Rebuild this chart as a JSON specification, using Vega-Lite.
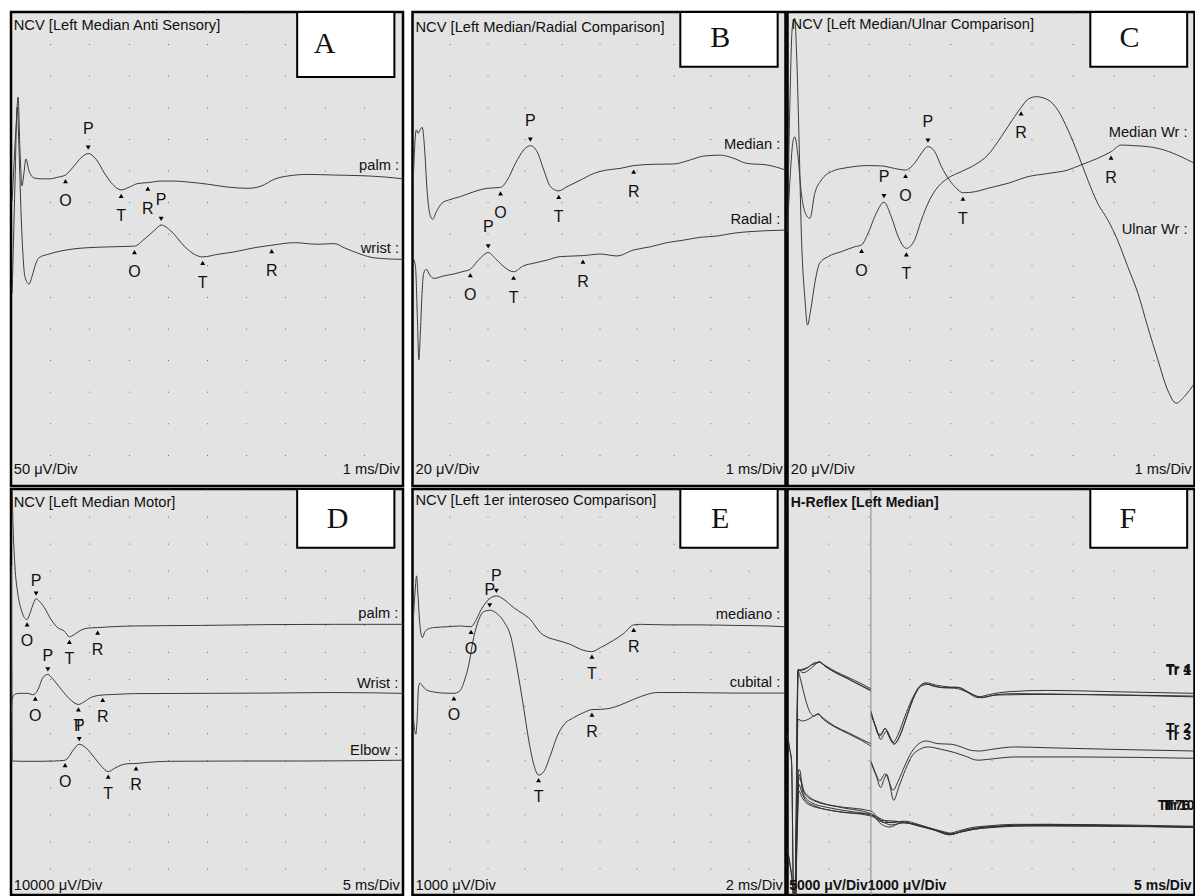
{
"$schema":"https://vega.github.io/schema/vega-lite/v6.json",
"background":"white",
"padding":{"left":9,"top":9,"right":0,"bottom":0},
"config":{"view":{"fill":"#e3e3e3","stroke":"#000","strokeWidth":2.5},
"axisX":{"grid":true,"domain":false,"ticks":false,"labels":false,"gridColor":"#707070","gridWidth":1,"gridOpacity":1},
"font":"Liberation Sans","text":{"font":"Liberation Sans","color":"#111"}},
"datasets":{
"cur":[{"x":2.05}],
"trA":[
{"s":"palm","x":0.03,"y":9.02},{"s":"palm","x":0.13,"y":11.39},{"s":"palm","x":0.18,"y":12.31},{"s":"palm","x":0.23,"y":10.6},{"s":"palm","x":0.28,"y":9.5},{"s":"palm","x":0.33,"y":9.9},{"s":"palm","x":0.38,"y":10.35},{"s":"palm","x":0.46,"y":9.97},{"s":"palm","x":0.59,"y":9.75},{"s":"palm","x":0.77,"y":9.72},{"s":"palm","x":0.97,"y":9.72},{"s":"palm","x":1.22,"y":9.78},{"s":"palm","x":1.39,"y":9.84},{"s":"palm","x":1.57,"y":10.07},{"s":"palm","x":1.79,"y":10.39},{"s":"palm","x":1.97,"y":10.52},{"s":"palm","x":2.17,"y":10.34},{"s":"palm","x":2.38,"y":9.91},{"s":"palm","x":2.59,"y":9.55},{"s":"palm","x":2.81,"y":9.37},{"s":"palm","x":3.02,"y":9.46},{"s":"palm","x":3.23,"y":9.57},{"s":"palm","x":3.49,"y":9.6},{"s":"palm","x":3.83,"y":9.65},{"s":"palm","x":4.17,"y":9.65},{"s":"palm","x":4.51,"y":9.62},{"s":"palm","x":5.02,"y":9.55},{"s":"palm","x":5.53,"y":9.46},{"s":"palm","x":6.04,"y":9.42},{"s":"palm","x":6.38,"y":9.49},{"s":"palm","x":6.72,"y":9.71},{"s":"palm","x":7.06,"y":9.81},{"s":"palm","x":7.57,"y":9.86},{"s":"palm","x":8.25,"y":9.84},{"s":"palm","x":8.93,"y":9.82},{"s":"palm","x":9.52,"y":9.78},{"s":"palm","x":10,"y":9.72},
{"s":"wrist","x":0.03,"y":6.1},{"s":"wrist","x":0.1,"y":9.5},{"s":"wrist","x":0.16,"y":12.0},{"s":"wrist","x":0.2,"y":10.8},{"s":"wrist","x":0.27,"y":8.2},{"s":"wrist","x":0.36,"y":6.6},{"s":"wrist","x":0.46,"y":6.39},{"s":"wrist","x":0.54,"y":6.65},{"s":"wrist","x":0.64,"y":7.06},{"s":"wrist","x":0.71,"y":7.22},{"s":"wrist","x":0.97,"y":7.34},{"s":"wrist","x":1.58,"y":7.5},{"s":"wrist","x":2.3,"y":7.56},{"s":"wrist","x":3.15,"y":7.59},{"s":"wrist","x":3.4,"y":7.81},{"s":"wrist","x":3.66,"y":8.09},{"s":"wrist","x":3.83,"y":8.26},{"s":"wrist","x":4.08,"y":8.07},{"s":"wrist","x":4.42,"y":7.59},{"s":"wrist","x":4.68,"y":7.33},{"s":"wrist","x":4.89,"y":7.25},{"s":"wrist","x":5.27,"y":7.33},{"s":"wrist","x":5.7,"y":7.41},{"s":"wrist","x":6.21,"y":7.54},{"s":"wrist","x":6.65,"y":7.62},{"s":"wrist","x":7.23,"y":7.7},{"s":"wrist","x":7.82,"y":7.65},{"s":"wrist","x":8.25,"y":7.67},{"s":"wrist","x":8.5,"y":7.54},{"s":"wrist","x":8.93,"y":7.33},{"s":"wrist","x":9.27,"y":7.22},{"s":"wrist","x":10,"y":7.17}],
"trB":[
{"s":"m","x":0.02,"y":9.63},{"s":"m","x":0.05,"y":10.53},{"s":"m","x":0.1,"y":11.27},{"s":"m","x":0.15,"y":11.16},{"s":"m","x":0.2,"y":11.27},{"s":"m","x":0.26,"y":11.35},{"s":"m","x":0.32,"y":10.74},{"s":"m","x":0.39,"y":9.37},{"s":"m","x":0.46,"y":8.63},{"s":"m","x":0.54,"y":8.44},{"s":"m","x":0.64,"y":8.68},{"s":"m","x":0.79,"y":8.95},{"s":"m","x":0.97,"y":9.05},{"s":"m","x":1.29,"y":9.16},{"s":"m","x":1.64,"y":9.31},{"s":"m","x":2.0,"y":9.42},{"s":"m","x":2.36,"y":9.45},{"s":"m","x":2.54,"y":9.68},{"s":"m","x":2.76,"y":10.21},{"s":"m","x":2.98,"y":10.63},{"s":"m","x":3.16,"y":10.77},{"s":"m","x":3.34,"y":10.58},{"s":"m","x":3.52,"y":10.0},{"s":"m","x":3.7,"y":9.47},{"s":"m","x":3.92,"y":9.34},{"s":"m","x":4.14,"y":9.47},{"s":"m","x":4.5,"y":9.68},{"s":"m","x":4.86,"y":9.89},{"s":"m","x":5.21,"y":10.0},{"s":"m","x":5.57,"y":10.05},{"s":"m","x":5.93,"y":10.14},{"s":"m","x":6.46,"y":10.18},{"s":"m","x":7.0,"y":10.19},{"s":"m","x":7.45,"y":10.32},{"s":"m","x":7.8,"y":10.44},{"s":"m","x":8.25,"y":10.47},{"s":"m","x":8.61,"y":10.37},{"s":"m","x":8.96,"y":10.21},{"s":"m","x":9.5,"y":10.16},{"s":"m","x":10,"y":10.0},
{"s":"r","x":0.02,"y":7.2},{"s":"r","x":0.08,"y":6.94},{"s":"r","x":0.13,"y":5.36},{"s":"r","x":0.17,"y":3.99},{"s":"r","x":0.21,"y":4.83},{"s":"r","x":0.26,"y":6.2},{"s":"r","x":0.3,"y":6.73},{"s":"r","x":0.37,"y":6.86},{"s":"r","x":0.46,"y":6.68},{"s":"r","x":0.57,"y":6.57},{"s":"r","x":0.84,"y":6.65},{"s":"r","x":1.11,"y":6.71},{"s":"r","x":1.33,"y":6.78},{"s":"r","x":1.55,"y":6.86},{"s":"r","x":1.73,"y":7.1},{"s":"r","x":1.91,"y":7.31},{"s":"r","x":2.03,"y":7.39},{"s":"r","x":2.22,"y":7.2},{"s":"r","x":2.45,"y":6.94},{"s":"r","x":2.71,"y":6.78},{"s":"r","x":2.98,"y":6.97},{"s":"r","x":3.25,"y":7.05},{"s":"r","x":3.61,"y":7.15},{"s":"r","x":3.96,"y":7.26},{"s":"r","x":4.57,"y":7.29},{"s":"r","x":5.04,"y":7.34},{"s":"r","x":5.48,"y":7.28},{"s":"r","x":5.93,"y":7.47},{"s":"r","x":6.38,"y":7.57},{"s":"r","x":6.82,"y":7.7},{"s":"r","x":7.27,"y":7.78},{"s":"r","x":7.71,"y":7.87},{"s":"r","x":8.16,"y":7.91},{"s":"r","x":8.61,"y":8.0},{"s":"r","x":9.05,"y":8.05},{"s":"r","x":9.5,"y":8.08},{"s":"r","x":10,"y":8.1}],
"trC":[
{"s":"m","x":0.0,"y":8.1},{"s":"m","x":0.08,"y":10.11},{"s":"m","x":0.14,"y":10.95},{"s":"m","x":0.18,"y":11.05},{"s":"m","x":0.25,"y":10.53},{"s":"m","x":0.34,"y":9.26},{"s":"m","x":0.44,"y":8.63},{"s":"m","x":0.55,"y":8.47},{"s":"m","x":0.67,"y":9.26},{"s":"m","x":0.83,"y":9.68},{"s":"m","x":1.08,"y":9.95},{"s":"m","x":1.49,"y":10.08},{"s":"m","x":1.98,"y":10.14},{"s":"m","x":2.31,"y":10.13},{"s":"m","x":2.63,"y":10.05},{"s":"m","x":2.9,"y":10.0},{"s":"m","x":3.12,"y":10.21},{"s":"m","x":3.29,"y":10.53},{"s":"m","x":3.45,"y":10.74},{"s":"m","x":3.62,"y":10.58},{"s":"m","x":3.78,"y":10.11},{"s":"m","x":3.98,"y":9.68},{"s":"m","x":4.15,"y":9.42},{"s":"m","x":4.31,"y":9.28},{"s":"m","x":4.6,"y":9.31},{"s":"m","x":4.92,"y":9.42},{"s":"m","x":5.42,"y":9.58},{"s":"m","x":5.91,"y":9.79},{"s":"m","x":6.4,"y":9.89},{"s":"m","x":6.89,"y":10.0},{"s":"m","x":7.21,"y":10.16},{"s":"m","x":7.62,"y":10.37},{"s":"m","x":7.95,"y":10.58},{"s":"m","x":8.2,"y":10.79},{"s":"m","x":8.52,"y":10.77},{"s":"m","x":8.85,"y":10.74},{"s":"m","x":9.26,"y":10.63},{"s":"m","x":9.67,"y":10.42},{"s":"m","x":10,"y":10.21},
{"s":"u","x":0.0,"y":8.0},{"s":"u","x":0.06,"y":12.22},{"s":"u","x":0.12,"y":14.54},{"s":"u","x":0.18,"y":14.8},{"s":"u","x":0.22,"y":13.8},{"s":"u","x":0.28,"y":11.16},{"s":"u","x":0.34,"y":8.0},{"s":"u","x":0.43,"y":5.89},{"s":"u","x":0.49,"y":5.09},{"s":"u","x":0.57,"y":5.57},{"s":"u","x":0.67,"y":6.41},{"s":"u","x":0.79,"y":7.05},{"s":"u","x":1.0,"y":7.26},{"s":"u","x":1.33,"y":7.42},{"s":"u","x":1.65,"y":7.57},{"s":"u","x":1.82,"y":7.63},{"s":"u","x":1.98,"y":8.0},{"s":"u","x":2.18,"y":8.63},{"s":"u","x":2.37,"y":8.98},{"s":"u","x":2.55,"y":8.52},{"s":"u","x":2.72,"y":7.89},{"s":"u","x":2.92,"y":7.52},{"s":"u","x":3.12,"y":7.78},{"s":"u","x":3.29,"y":8.42},{"s":"u","x":3.49,"y":9.05},{"s":"u","x":3.7,"y":9.47},{"s":"u","x":3.94,"y":9.74},{"s":"u","x":4.27,"y":9.95},{"s":"u","x":4.6,"y":10.16},{"s":"u","x":4.92,"y":10.47},{"s":"u","x":5.25,"y":11.05},{"s":"u","x":5.58,"y":11.69},{"s":"u","x":5.74,"y":11.98},{"s":"u","x":5.91,"y":12.24},{"s":"u","x":6.11,"y":12.32},{"s":"u","x":6.4,"y":12.22},{"s":"u","x":6.64,"y":11.9},{"s":"u","x":6.89,"y":11.27},{"s":"u","x":7.13,"y":10.53},{"s":"u","x":7.38,"y":9.68},{"s":"u","x":7.62,"y":8.95},{"s":"u","x":7.87,"y":8.42},{"s":"u","x":8.11,"y":7.78},{"s":"u","x":8.36,"y":6.94},{"s":"u","x":8.61,"y":6.1},{"s":"u","x":8.85,"y":5.04},{"s":"u","x":9.1,"y":3.99},{"s":"u","x":9.34,"y":3.04},{"s":"u","x":9.55,"y":2.62},{"s":"u","x":9.75,"y":2.83},{"s":"u","x":10,"y":3.25}],
"trD":[
{"s":"p","x":0.03,"y":15.0},{"s":"p","x":0.05,"y":13.76},{"s":"p","x":0.1,"y":12.16},{"s":"p","x":0.17,"y":11.17},{"s":"p","x":0.26,"y":10.55},{"s":"p","x":0.34,"y":10.25},{"s":"p","x":0.41,"y":10.18},{"s":"p","x":0.49,"y":10.43},{"s":"p","x":0.58,"y":10.8},{"s":"p","x":0.64,"y":10.95},{"s":"p","x":0.72,"y":10.86},{"s":"p","x":0.85,"y":10.62},{"s":"p","x":1.02,"y":10.18},{"s":"p","x":1.19,"y":9.88},{"s":"p","x":1.36,"y":9.75},{"s":"p","x":1.49,"y":9.54},{"s":"p","x":1.62,"y":9.63},{"s":"p","x":1.79,"y":9.79},{"s":"p","x":1.96,"y":9.86},{"s":"p","x":2.21,"y":9.88},{"s":"p","x":2.55,"y":9.91},{"s":"p","x":3.15,"y":9.94},{"s":"p","x":4.85,"y":9.96},{"s":"p","x":6.55,"y":9.99},{"s":"p","x":8.25,"y":10.0},{"s":"p","x":10,"y":10.0},
{"s":"w","x":0.01,"y":6.74},{"s":"w","x":0.03,"y":7.23},{"s":"w","x":0.09,"y":7.41},{"s":"w","x":0.21,"y":7.45},{"s":"w","x":0.43,"y":7.45},{"s":"w","x":0.55,"y":7.4},{"s":"w","x":0.62,"y":7.44},{"s":"w","x":0.71,"y":7.66},{"s":"w","x":0.81,"y":8.03},{"s":"w","x":0.94,"y":8.15},{"s":"w","x":1.06,"y":7.99},{"s":"w","x":1.28,"y":7.6},{"s":"w","x":1.49,"y":7.25},{"s":"w","x":1.72,"y":7.04},{"s":"w","x":1.87,"y":7.14},{"s":"w","x":2.04,"y":7.3},{"s":"w","x":2.34,"y":7.39},{"s":"w","x":2.64,"y":7.41},{"s":"w","x":3.15,"y":7.44},{"s":"w","x":4.85,"y":7.45},{"s":"w","x":6.55,"y":7.46},{"s":"w","x":8.25,"y":7.48},{"s":"w","x":10,"y":7.45},
{"s":"e","x":0.01,"y":12.16},{"s":"e","x":0.03,"y":4.95},{"s":"e","x":0.26,"y":4.94},{"s":"e","x":0.77,"y":4.94},{"s":"e","x":1.11,"y":4.95},{"s":"e","x":1.38,"y":4.98},{"s":"e","x":1.47,"y":5.1},{"s":"e","x":1.6,"y":5.38},{"s":"e","x":1.74,"y":5.57},{"s":"e","x":1.91,"y":5.44},{"s":"e","x":2.13,"y":5.07},{"s":"e","x":2.3,"y":4.77},{"s":"e","x":2.48,"y":4.56},{"s":"e","x":2.64,"y":4.68},{"s":"e","x":2.81,"y":4.8},{"s":"e","x":2.98,"y":4.85},{"s":"e","x":3.19,"y":4.86},{"s":"e","x":3.49,"y":4.9},{"s":"e","x":4.0,"y":4.94},{"s":"e","x":5.7,"y":4.95},{"s":"e","x":7.4,"y":4.95},{"s":"e","x":10,"y":4.98}],
"trE":[
{"s":"m","x":0.02,"y":10.12},{"s":"m","x":0.07,"y":11.23},{"s":"m","x":0.11,"y":11.79},{"s":"m","x":0.14,"y":11.23},{"s":"m","x":0.19,"y":10.12},{"s":"m","x":0.23,"y":9.63},{"s":"m","x":0.27,"y":9.51},{"s":"m","x":0.32,"y":9.69},{"s":"m","x":0.41,"y":9.82},{"s":"m","x":0.57,"y":9.88},{"s":"m","x":0.93,"y":9.91},{"s":"m","x":1.29,"y":9.94},{"s":"m","x":1.57,"y":9.91},{"s":"m","x":1.69,"y":10.12},{"s":"m","x":1.82,"y":10.49},{"s":"m","x":2.0,"y":10.86},{"s":"m","x":2.25,"y":11.05},{"s":"m","x":2.45,"y":10.92},{"s":"m","x":2.71,"y":10.62},{"s":"m","x":2.98,"y":10.37},{"s":"m","x":3.16,"y":10.18},{"s":"m","x":3.29,"y":9.94},{"s":"m","x":3.43,"y":9.69},{"s":"m","x":3.61,"y":9.53},{"s":"m","x":3.88,"y":9.41},{"s":"m","x":4.23,"y":9.26},{"s":"m","x":4.5,"y":9.08},{"s":"m","x":4.81,"y":8.99},{"s":"m","x":5.04,"y":9.14},{"s":"m","x":5.39,"y":9.41},{"s":"m","x":5.66,"y":9.66},{"s":"m","x":5.93,"y":9.98},{"s":"m","x":6.11,"y":10.0},{"s":"m","x":6.82,"y":9.98},{"s":"m","x":7.71,"y":9.98},{"s":"m","x":8.61,"y":9.96},{"s":"m","x":9.5,"y":9.94},{"s":"m","x":10,"y":9.91},
{"s":"c","x":0.02,"y":6.67},{"s":"c","x":0.05,"y":6.18},{"s":"c","x":0.09,"y":5.94},{"s":"c","x":0.13,"y":6.67},{"s":"c","x":0.16,"y":7.66},{"s":"c","x":0.2,"y":7.83},{"s":"c","x":0.25,"y":7.76},{"s":"c","x":0.35,"y":7.6},{"s":"c","x":0.53,"y":7.51},{"s":"c","x":0.84,"y":7.46},{"s":"c","x":1.11,"y":7.45},{"s":"c","x":1.27,"y":7.54},{"s":"c","x":1.39,"y":7.91},{"s":"c","x":1.51,"y":8.52},{"s":"c","x":1.64,"y":9.51},{"s":"c","x":1.78,"y":10.18},{"s":"c","x":1.91,"y":10.47},{"s":"c","x":2.07,"y":10.52},{"s":"c","x":2.27,"y":10.39},{"s":"c","x":2.45,"y":10.1},{"s":"c","x":2.63,"y":9.57},{"s":"c","x":2.8,"y":8.4},{"s":"c","x":2.98,"y":6.92},{"s":"c","x":3.12,"y":5.69},{"s":"c","x":3.25,"y":4.83},{"s":"c","x":3.38,"y":4.43},{"s":"c","x":3.52,"y":4.56},{"s":"c","x":3.7,"y":5.17},{"s":"c","x":3.88,"y":5.87},{"s":"c","x":4.05,"y":6.28},{"s":"c","x":4.32,"y":6.55},{"s":"c","x":4.59,"y":6.74},{"s":"c","x":4.81,"y":6.85},{"s":"c","x":5.04,"y":6.86},{"s":"c","x":5.3,"y":6.9},{"s":"c","x":5.57,"y":7.02},{"s":"c","x":5.93,"y":7.23},{"s":"c","x":6.29,"y":7.41},{"s":"c","x":6.55,"y":7.48},{"s":"c","x":7.27,"y":7.48},{"s":"c","x":8.61,"y":7.46},{"s":"c","x":10,"y":7.46}],
"trF":[
{"s":"1a","x":0,"y":5.94},{"s":"1a","x":0.05,"y":5.44},{"s":"1a","x":0.1,"y":4.95},{"s":"1a","x":0.15,"y":0},{"s":"1a","x":0.2,"y":0},{"s":"1a","x":0.26,"y":8.3},{"s":"1a","x":0.34,"y":8.3},{"s":"1a","x":0.47,"y":8.37},{"s":"1a","x":0.59,"y":8.5},{"s":"1a","x":0.71,"y":8.55},{"s":"1a","x":0.79,"y":8.61},{"s":"1a","x":0.9,"y":8.5},{"s":"1a","x":1.08,"y":8.34},{"s":"1a","x":1.33,"y":8.15},{"s":"1a","x":1.65,"y":7.93},{"s":"1a","x":2.05,"y":7.62},
{"s":"1b","x":2.05,"y":6.8},{"s":"1b","x":2.13,"y":6.37},{"s":"1b","x":2.24,"y":5.94},{"s":"1b","x":2.32,"y":5.96},{"s":"1b","x":2.39,"y":6.16},{"s":"1b","x":2.49,"y":5.87},{"s":"1b","x":2.59,"y":5.63},{"s":"1b","x":2.72,"y":5.94},{"s":"1b","x":2.88,"y":6.58},{"s":"1b","x":3.04,"y":7.17},{"s":"1b","x":3.21,"y":7.64},{"s":"1b","x":3.37,"y":7.81},{"s":"1b","x":3.62,"y":7.7},{"s":"1b","x":3.94,"y":7.66},{"s":"1b","x":4.15,"y":7.68},{"s":"1b","x":4.35,"y":7.56},{"s":"1b","x":4.56,"y":7.39},{"s":"1b","x":4.72,"y":7.33},{"s":"1b","x":4.97,"y":7.41},{"s":"1b","x":5.42,"y":7.51},{"s":"1b","x":6.4,"y":7.56},{"s":"1b","x":8.03,"y":7.51},{"s":"1b","x":10,"y":7.45},
{"s":"4a","x":0.2,"y":0},{"s":"4a","x":0.26,"y":8.34},{"s":"4a","x":0.38,"y":8.21},{"s":"4a","x":0.55,"y":8.34},{"s":"4a","x":0.67,"y":8.5},{"s":"4a","x":0.77,"y":8.62},{"s":"4a","x":0.88,"y":8.52},{"s":"4a","x":1.08,"y":8.3},{"s":"4a","x":1.41,"y":8.05},{"s":"4a","x":2.05,"y":7.56},
{"s":"4b","x":2.05,"y":6.74},{"s":"4b","x":2.14,"y":6.31},{"s":"4b","x":2.27,"y":5.87},{"s":"4b","x":2.35,"y":6.06},{"s":"4b","x":2.4,"y":6.16},{"s":"4b","x":2.51,"y":5.81},{"s":"4b","x":2.62,"y":5.57},{"s":"4b","x":2.76,"y":5.87},{"s":"4b","x":2.92,"y":6.55},{"s":"4b","x":3.08,"y":7.23},{"s":"4b","x":3.25,"y":7.72},{"s":"4b","x":3.41,"y":7.84},{"s":"4b","x":3.66,"y":7.75},{"s":"4b","x":4.02,"y":7.68},{"s":"4b","x":4.23,"y":7.66},{"s":"4b","x":4.43,"y":7.51},{"s":"4b","x":4.64,"y":7.35},{"s":"4b","x":4.76,"y":7.29},{"s":"4b","x":5.09,"y":7.39},{"s":"4b","x":5.58,"y":7.44},{"s":"4b","x":7.21,"y":7.41},{"s":"4b","x":10,"y":7.35},
{"s":"5a","x":0.2,"y":0},{"s":"5a","x":0.26,"y":8.28},{"s":"5a","x":0.34,"y":8.33},{"s":"5a","x":0.51,"y":8.42},{"s":"5a","x":0.65,"y":8.57},{"s":"5a","x":0.79,"y":8.6},{"s":"5a","x":0.92,"y":8.45},{"s":"5a","x":1.16,"y":8.23},{"s":"5a","x":1.49,"y":7.98},{"s":"5a","x":2.05,"y":7.54},
{"s":"5b","x":2.05,"y":6.67},{"s":"5b","x":2.18,"y":6.18},{"s":"5b","x":2.29,"y":5.75},{"s":"5b","x":2.37,"y":5.94},{"s":"5b","x":2.44,"y":6.06},{"s":"5b","x":2.55,"y":5.75},{"s":"5b","x":2.63,"y":5.59},{"s":"5b","x":2.78,"y":5.96},{"s":"5b","x":2.95,"y":6.67},{"s":"5b","x":3.12,"y":7.35},{"s":"5b","x":3.29,"y":7.72},{"s":"5b","x":3.45,"y":7.78},{"s":"5b","x":3.78,"y":7.66},{"s":"5b","x":4.11,"y":7.64},{"s":"5b","x":4.39,"y":7.51},{"s":"5b","x":4.68,"y":7.29},{"s":"5b","x":5.17,"y":7.39},{"s":"5b","x":6.4,"y":7.41},{"s":"5b","x":10,"y":7.32},
{"s":"2a","x":0,"y":5.9},{"s":"2a","x":0.05,"y":5.4},{"s":"2a","x":0.1,"y":4.9},{"s":"2a","x":0.15,"y":0},{"s":"2a","x":0.2,"y":0},{"s":"2a","x":0.26,"y":8.28},{"s":"2a","x":0.31,"y":8.03},{"s":"2a","x":0.41,"y":7.41},{"s":"2a","x":0.52,"y":6.86},{"s":"2a","x":0.65,"y":6.61},{"s":"2a","x":0.75,"y":6.7},{"s":"2a","x":0.88,"y":6.53},{"s":"2a","x":1.16,"y":6.24},{"s":"2a","x":1.49,"y":6.0},{"s":"2a","x":1.82,"y":5.75},{"s":"2a","x":2.05,"y":5.59},
{"s":"2b","x":2.05,"y":4.95},{"s":"2b","x":2.16,"y":4.52},{"s":"2b","x":2.27,"y":4.21},{"s":"2b","x":2.35,"y":4.4},{"s":"2b","x":2.4,"y":4.48},{"s":"2b","x":2.49,"y":4.21},{"s":"2b","x":2.59,"y":3.87},{"s":"2b","x":2.72,"y":4.21},{"s":"2b","x":2.88,"y":4.77},{"s":"2b","x":3.04,"y":5.26},{"s":"2b","x":3.21,"y":5.57},{"s":"2b","x":3.41,"y":5.69},{"s":"2b","x":3.7,"y":5.59},{"s":"2b","x":4.02,"y":5.57},{"s":"2b","x":4.27,"y":5.47},{"s":"2b","x":4.52,"y":5.34},{"s":"2b","x":4.72,"y":5.32},{"s":"2b","x":5.01,"y":5.38},{"s":"2b","x":5.58,"y":5.47},{"s":"2b","x":6.4,"y":5.44},{"s":"2b","x":8.03,"y":5.38},{"s":"2b","x":10,"y":5.32},
{"s":"3a","x":0.2,"y":0},{"s":"3a","x":0.26,"y":6.49},{"s":"3a","x":0.36,"y":6.43},{"s":"3a","x":0.51,"y":6.49},{"s":"3a","x":0.64,"y":6.61},{"s":"3a","x":0.75,"y":6.67},{"s":"3a","x":0.88,"y":6.49},{"s":"3a","x":1.16,"y":6.21},{"s":"3a","x":1.49,"y":5.96},{"s":"3a","x":1.82,"y":5.71},{"s":"3a","x":2.05,"y":5.5},
{"s":"3b","x":2.05,"y":4.89},{"s":"3b","x":2.18,"y":4.4},{"s":"3b","x":2.29,"y":3.97},{"s":"3b","x":2.37,"y":4.27},{"s":"3b","x":2.44,"y":4.46},{"s":"3b","x":2.51,"y":4.09},{"s":"3b","x":2.61,"y":3.5},{"s":"3b","x":2.73,"y":3.97},{"s":"3b","x":2.9,"y":4.64},{"s":"3b","x":3.06,"y":5.14},{"s":"3b","x":3.25,"y":5.38},{"s":"3b","x":3.45,"y":5.47},{"s":"3b","x":3.78,"y":5.38},{"s":"3b","x":4.11,"y":5.26},{"s":"3b","x":4.35,"y":5.14},{"s":"3b","x":4.68,"y":4.98},{"s":"3b","x":4.92,"y":5.01},{"s":"3b","x":5.58,"y":5.1},{"s":"3b","x":7.21,"y":5.1},{"s":"3b","x":10,"y":5.05},
{"s":"6","x":0,"y":1.75},{"s":"6","x":0.05,"y":1.26},{"s":"6","x":0.1,"y":0.76},{"s":"6","x":0.15,"y":0},{"s":"6","x":0.2,"y":0},{"s":"6","x":0.21,"y":2.0},{"s":"6","x":0.28,"y":4.64},{"s":"6","x":0.31,"y":4.58},{"s":"6","x":0.36,"y":3.97},{"s":"6","x":0.51,"y":3.66},{"s":"6","x":0.83,"y":3.41},{"s":"6","x":1.33,"y":3.23},{"s":"6","x":2.05,"y":3.0},{"s":"6","x":2.31,"y":2.8},{"s":"6","x":2.55,"y":2.67},{"s":"6","x":2.88,"y":2.73},{"s":"6","x":3.21,"y":2.61},{"s":"6","x":3.53,"y":2.46},{"s":"6","x":3.78,"y":2.34},{"s":"6","x":3.94,"y":2.27},{"s":"6","x":4.19,"y":2.36},{"s":"6","x":4.52,"y":2.49},{"s":"6","x":4.92,"y":2.55},{"s":"6","x":5.58,"y":2.61},{"s":"6","x":6.4,"y":2.61},{"s":"6","x":8.03,"y":2.55},{"s":"6","x":10,"y":2.51},
{"s":"7","x":0.18,"y":0},{"s":"7","x":0.21,"y":1.38},{"s":"7","x":0.28,"y":4.33},{"s":"7","x":0.33,"y":4.21},{"s":"7","x":0.39,"y":3.72},{"s":"7","x":0.59,"y":3.41},{"s":"7","x":1.0,"y":3.23},{"s":"7","x":1.49,"y":3.1},{"s":"7","x":2.05,"y":2.96},{"s":"7","x":2.31,"y":2.73},{"s":"7","x":2.55,"y":2.59},{"s":"7","x":2.88,"y":2.67},{"s":"7","x":3.21,"y":2.55},{"s":"7","x":3.53,"y":2.43},{"s":"7","x":3.86,"y":2.3},{"s":"7","x":4.02,"y":2.24},{"s":"7","x":4.27,"y":2.34},{"s":"7","x":4.6,"y":2.46},{"s":"7","x":5.09,"y":2.54},{"s":"7","x":6.4,"y":2.59},{"s":"7","x":10,"y":2.49},
{"s":"8","x":0.18,"y":0},{"s":"8","x":0.21,"y":1.01},{"s":"8","x":0.28,"y":4.09},{"s":"8","x":0.34,"y":3.84},{"s":"8","x":0.43,"y":3.53},{"s":"8","x":0.67,"y":3.29},{"s":"8","x":1.16,"y":3.1},{"s":"8","x":2.05,"y":2.92},{"s":"8","x":2.39,"y":2.67},{"s":"8","x":2.72,"y":2.71},{"s":"8","x":3.12,"y":2.61},{"s":"8","x":3.62,"y":2.39},{"s":"8","x":3.94,"y":2.24},{"s":"8","x":4.19,"y":2.3},{"s":"8","x":4.6,"y":2.43},{"s":"8","x":5.58,"y":2.55},{"s":"8","x":10,"y":2.51},
{"s":"9","x":0.18,"y":0},{"s":"9","x":0.21,"y":0.76},{"s":"9","x":0.28,"y":3.84},{"s":"9","x":0.36,"y":3.6},{"s":"9","x":0.51,"y":3.35},{"s":"9","x":0.92,"y":3.17},{"s":"9","x":1.49,"y":3.04},{"s":"9","x":2.05,"y":2.98},{"s":"9","x":2.31,"y":2.61},{"s":"9","x":2.51,"y":2.51},{"s":"9","x":2.8,"y":2.67},{"s":"9","x":3.29,"y":2.55},{"s":"9","x":3.7,"y":2.36},{"s":"9","x":3.98,"y":2.22},{"s":"9","x":4.27,"y":2.34},{"s":"9","x":4.76,"y":2.46},{"s":"9","x":6.4,"y":2.57},{"s":"9","x":10,"y":2.52},
{"s":"10","x":0,"y":1.7},{"s":"10","x":0.05,"y":1.2},{"s":"10","x":0.1,"y":0.7},{"s":"10","x":0.15,"y":0},{"s":"10","x":0.2,"y":0},{"s":"10","x":0.21,"y":1.63},{"s":"10","x":0.28,"y":4.46},{"s":"10","x":0.33,"y":4.27},{"s":"10","x":0.43,"y":3.72},{"s":"10","x":0.67,"y":3.47},{"s":"10","x":1.16,"y":3.29},{"s":"10","x":2.05,"y":3.1},{"s":"10","x":2.31,"y":2.76},{"s":"10","x":2.63,"y":2.73},{"s":"10","x":3.04,"y":2.64},{"s":"10","x":3.45,"y":2.49},{"s":"10","x":3.86,"y":2.33},{"s":"10","x":4.07,"y":2.27},{"s":"10","x":4.35,"y":2.39},{"s":"10","x":4.92,"y":2.51},{"s":"10","x":6.4,"y":2.61},{"s":"10","x":10,"y":2.54}],
"mk":[
{"p":"A","m":"O","x":1.39,"y":9.84},{"p":"A","m":"P","x":1.97,"y":10.52},{"p":"A","m":"T","x":2.81,"y":9.37},{"p":"A","m":"R","x":3.49,"y":9.6},
{"p":"A","m":"O","x":3.15,"y":7.59},{"p":"A","m":"P","x":3.83,"y":8.26},{"p":"A","m":"T","x":4.89,"y":7.25},{"p":"A","m":"R","x":6.65,"y":7.62},
{"p":"B","m":"O","x":2.36,"y":9.45},{"p":"B","m":"P","x":3.16,"y":10.77},{"p":"B","m":"T","x":3.92,"y":9.34},{"p":"B","m":"R","x":5.93,"y":10.14},
{"p":"B","m":"O","x":1.55,"y":6.86},{"p":"B","m":"P","x":2.03,"y":7.39},{"p":"B","m":"T","x":2.71,"y":6.78},{"p":"B","m":"R","x":4.57,"y":7.29},
{"p":"C","m":"O","x":2.9,"y":10.0},{"p":"C","m":"P","x":3.45,"y":10.74},{"p":"C","m":"T","x":4.31,"y":9.28},{"p":"C","m":"R","x":7.95,"y":10.58},
{"p":"C","m":"O","x":1.82,"y":7.63},{"p":"C","m":"P","x":2.37,"y":8.98},{"p":"C","m":"T","x":2.92,"y":7.52},{"p":"C","m":"R","x":5.74,"y":11.98},
{"p":"D","m":"O","x":0.41,"y":10.18},{"p":"D","m":"P","x":0.64,"y":10.95},{"p":"D","m":"T","x":1.49,"y":9.54},{"p":"D","m":"R","x":2.21,"y":9.88},
{"p":"D","m":"O","x":0.62,"y":7.44},{"p":"D","m":"P","x":0.94,"y":8.15},{"p":"D","m":"T","x":1.72,"y":7.04},{"p":"D","m":"R","x":2.34,"y":7.39},
{"p":"D","m":"O","x":1.38,"y":4.98},{"p":"D","m":"P","x":1.74,"y":5.57},{"p":"D","m":"T","x":2.48,"y":4.56},{"p":"D","m":"R","x":3.19,"y":4.86},
{"p":"E","m":"O","x":1.57,"y":9.91},{"p":"E","m":"P","x":2.25,"y":11.05},{"p":"E","m":"T","x":4.81,"y":8.99},{"p":"E","m":"R","x":5.93,"y":9.98},
{"p":"E","m":"O","x":1.11,"y":7.45},{"p":"E","m":"P","x":2.07,"y":10.52},{"p":"E","m":"T","x":3.38,"y":4.43},{"p":"E","m":"R","x":4.81,"y":6.85}],
"box":[
{"p":"A","x":7.3,"x2":9.78,"y":12.94,"y2":15,"t":"A","tx":8.0,"ty":13.99},
{"p":"B","x":7.18,"x2":9.79,"y":13.27,"y2":15,"t":"B","tx":8.25,"ty":14.17},
{"p":"C","x":7.44,"x2":9.82,"y":13.27,"y2":15,"t":"C","tx":8.4,"ty":14.17},
{"p":"D","x":7.3,"x2":9.78,"y":12.83,"y2":15,"t":"D","tx":8.33,"ty":13.88},
{"p":"E","x":7.18,"x2":9.79,"y":12.83,"y2":15,"t":"E","tx":8.25,"ty":13.88},
{"p":"F","x":7.44,"x2":9.82,"y":12.83,"y2":15,"t":"F","tx":8.36,"ty":13.88}],
"lblL":[
{"p":"A","x":0.07,"y":14.56,"t":"NCV [Left Median Anti Sensory]"},{"p":"A","x":0.07,"y":0.52,"t":"50 μV/Div"},
{"p":"B","x":0.08,"y":14.5,"t":"NCV [Left Median/Radial Comparison]"},{"p":"B","x":0.08,"y":0.52,"t":"20 μV/Div"},
{"p":"C","x":0.1,"y":14.6,"t":"NCV [Left Median/Ulnar Comparison]"},{"p":"C","x":0.08,"y":0.52,"t":"20 μV/Div"},
{"p":"D","x":0.07,"y":14.5,"t":"NCV [Left Median Motor]"},{"p":"D","x":0.07,"y":0.33,"t":"10000 μV/Div"},
{"p":"E","x":0.08,"y":14.55,"t":"NCV [Left 1er interoseo Comparison]"},{"p":"E","x":0.08,"y":0.33,"t":"1000 μV/Div"},
{"p":"F","x":0.08,"y":14.5,"t":"H-Reflex [Left Median]"},{"p":"F","x":0.04,"y":0.33,"t":"5000 μV/Div1000 μV/Div"},
{"p":"F","x":9.3,"y":8.3,"t":"Tr 4"},{"p":"F","x":9.3,"y":8.26,"t":"Tr 1"},{"p":"F","x":9.3,"y":6.14,"t":"Tr 2"},{"p":"F","x":9.3,"y":5.86,"t":"Tr 3"},
{"p":"F","x":9.1,"y":3.3,"t":"Tr 7"},{"p":"F","x":9.2,"y":3.3,"t":"Tr 10"},{"p":"F","x":9.28,"y":3.3,"t":"Tr 6"}],
"lblR":[
{"p":"A","x":9.92,"y":0.52,"t":"1 ms/Div"},{"p":"A","x":9.9,"y":10.13,"t":"palm :"},{"p":"A","x":9.9,"y":7.49,"t":"wrist :"},
{"p":"B","x":9.93,"y":0.52,"t":"1 ms/Div"},{"p":"B","x":9.86,"y":10.79,"t":"Median :"},{"p":"B","x":9.86,"y":8.42,"t":"Radial :"},
{"p":"C","x":9.93,"y":0.52,"t":"1 ms/Div"},{"p":"C","x":9.83,"y":11.16,"t":"Median Wr :"},{"p":"C","x":9.83,"y":8.1,"t":"Ulnar Wr :"},
{"p":"D","x":9.92,"y":0.33,"t":"5 ms/Div"},{"p":"D","x":9.88,"y":10.37,"t":"palm :"},{"p":"D","x":9.88,"y":7.81,"t":"Wrist :"},{"p":"D","x":9.88,"y":5.32,"t":"Elbow :"},
{"p":"E","x":9.93,"y":0.33,"t":"2 ms/Div"},{"p":"E","x":9.86,"y":10.34,"t":"mediano  :"},{"p":"E","x":9.86,"y":7.84,"t":"cubital :"},
{"p":"F","x":9.93,"y":0.33,"t":"5 ms/Div"}]
},
"vconcat":[
{"hconcat":[
{"width":392,"height":474,"layer":[
{"data":{"name":"trA"},"mark":{"type":"line","clip":true,"stroke":"#3a3a3a","strokeWidth":1,"interpolate":"monotone"},"encoding":{"x":{"field":"x","type":"quantitative","scale":{"domain":[0,10],"nice":false,"zero":false},"axis":{"values":[1,2,3,4,5,6,7,8,9],"gridDash":[1,30.6],"title":null}},"y":{"field":"y","type":"quantitative","scale":{"domain":[0,15],"nice":false,"zero":false},"axis":null},"detail":{"field":"s"}}},
{"data":{"name":"mk"},"transform":[{"filter":"datum.p=='A' && datum.m!='P'"}],"mark":{"type":"point","shape":"triangle-up","filled":true,"size":24,"color":"#000","opacity":1,"yOffset":6},"encoding":{"x":{"field":"x","type":"quantitative"},"y":{"field":"y","type":"quantitative","axis":null}}},
{"data":{"name":"mk"},"transform":[{"filter":"datum.p=='A' && datum.m=='P'"}],"mark":{"type":"point","shape":"triangle-down","filled":true,"size":24,"color":"#000","opacity":1,"yOffset":-6},"encoding":{"x":{"field":"x","type":"quantitative"},"y":{"field":"y","type":"quantitative","axis":null}}},
{"data":{"name":"mk"},"transform":[{"filter":"datum.p=='A' && datum.m!='P'"}],"mark":{"type":"text","fontSize":16,"baseline":"middle","dy":26},"encoding":{"x":{"field":"x","type":"quantitative"},"y":{"field":"y","type":"quantitative","axis":null},"text":{"field":"m"}}},
{"data":{"name":"mk"},"transform":[{"filter":"datum.p=='A' && datum.m=='P'"}],"mark":{"type":"text","fontSize":16,"baseline":"middle","dy":-25},"encoding":{"x":{"field":"x","type":"quantitative"},"y":{"field":"y","type":"quantitative","axis":null},"text":{"field":"m"}}},
{"data":{"name":"box"},"transform":[{"filter":"datum.p=='A'"}],"mark":{"type":"rect","fill":"#fff","stroke":"#000","strokeWidth":2},"encoding":{"x":{"field":"x","type":"quantitative"},"x2":{"field":"x2"},"y":{"field":"y","type":"quantitative","axis":null},"y2":{"field":"y2"}}},
{"data":{"name":"box"},"transform":[{"filter":"datum.p=='A'"}],"mark":{"type":"text","font":"Liberation Serif","fontSize":30,"align":"center","baseline":"middle"},"encoding":{"x":{"field":"tx","type":"quantitative"},"y":{"field":"ty","type":"quantitative","axis":null},"text":{"field":"t"}}},
{"data":{"name":"lblL"},"transform":[{"filter":"datum.p=='A'"}],"mark":{"type":"text","fontSize":14.7,"align":"left","baseline":"middle"},"encoding":{"x":{"field":"x","type":"quantitative"},"y":{"field":"y","type":"quantitative","axis":null},"text":{"field":"t"}}},
{"data":{"name":"lblR"},"transform":[{"filter":"datum.p=='A'"}],"mark":{"type":"text","fontSize":14.7,"align":"right","baseline":"middle"},"encoding":{"x":{"field":"x","type":"quantitative"},"y":{"field":"y","type":"quantitative","axis":null},"text":{"field":"t"}}}
]},
{"hconcat":[
{"width":373,"height":474,"layer":[
{"data":{"name":"trB"},"mark":{"type":"line","clip":true,"stroke":"#3a3a3a","strokeWidth":1,"interpolate":"monotone"},"encoding":{"x":{"field":"x","type":"quantitative","scale":{"domain":[0,10],"nice":false,"zero":false},"axis":{"values":[1,2,3,4,5,6,7,8,9],"gridDash":[1,30.6],"title":null}},"y":{"field":"y","type":"quantitative","scale":{"domain":[0,15],"nice":false,"zero":false},"axis":null},"detail":{"field":"s"}}},
{"data":{"name":"mk"},"transform":[{"filter":"datum.p=='B' && datum.m!='P'"}],"mark":{"type":"point","shape":"triangle-up","filled":true,"size":24,"color":"#000","opacity":1,"yOffset":6},"encoding":{"x":{"field":"x","type":"quantitative"},"y":{"field":"y","type":"quantitative","axis":null}}},
{"data":{"name":"mk"},"transform":[{"filter":"datum.p=='B' && datum.m=='P'"}],"mark":{"type":"point","shape":"triangle-down","filled":true,"size":24,"color":"#000","opacity":1,"yOffset":-6},"encoding":{"x":{"field":"x","type":"quantitative"},"y":{"field":"y","type":"quantitative","axis":null}}},
{"data":{"name":"mk"},"transform":[{"filter":"datum.p=='B' && datum.m!='P'"}],"mark":{"type":"text","fontSize":16,"baseline":"middle","dy":26},"encoding":{"x":{"field":"x","type":"quantitative"},"y":{"field":"y","type":"quantitative","axis":null},"text":{"field":"m"}}},
{"data":{"name":"mk"},"transform":[{"filter":"datum.p=='B' && datum.m=='P'"}],"mark":{"type":"text","fontSize":16,"baseline":"middle","dy":-25},"encoding":{"x":{"field":"x","type":"quantitative"},"y":{"field":"y","type":"quantitative","axis":null},"text":{"field":"m"}}},
{"data":{"name":"box"},"transform":[{"filter":"datum.p=='B'"}],"mark":{"type":"rect","fill":"#fff","stroke":"#000","strokeWidth":2},"encoding":{"x":{"field":"x","type":"quantitative"},"x2":{"field":"x2"},"y":{"field":"y","type":"quantitative","axis":null},"y2":{"field":"y2"}}},
{"data":{"name":"box"},"transform":[{"filter":"datum.p=='B'"}],"mark":{"type":"text","font":"Liberation Serif","fontSize":30,"align":"center","baseline":"middle"},"encoding":{"x":{"field":"tx","type":"quantitative"},"y":{"field":"ty","type":"quantitative","axis":null},"text":{"field":"t"}}},
{"data":{"name":"lblL"},"transform":[{"filter":"datum.p=='B'"}],"mark":{"type":"text","fontSize":14.7,"align":"left","baseline":"middle"},"encoding":{"x":{"field":"x","type":"quantitative"},"y":{"field":"y","type":"quantitative","axis":null},"text":{"field":"t"}}},
{"data":{"name":"lblR"},"transform":[{"filter":"datum.p=='B'"}],"mark":{"type":"text","fontSize":14.7,"align":"right","baseline":"middle"},"encoding":{"x":{"field":"x","type":"quantitative"},"y":{"field":"y","type":"quantitative","axis":null},"text":{"field":"t"}}}
]},
{"width":407,"height":474,"layer":[
{"data":{"name":"trC"},"mark":{"type":"line","clip":true,"stroke":"#3a3a3a","strokeWidth":1,"interpolate":"monotone"},"encoding":{"x":{"field":"x","type":"quantitative","scale":{"domain":[0,10],"nice":false,"zero":false},"axis":{"values":[1,2,3,4,5,6,7,8,9],"gridDash":[1,30.6],"title":null}},"y":{"field":"y","type":"quantitative","scale":{"domain":[0,15],"nice":false,"zero":false},"axis":null},"detail":{"field":"s"}}},
{"data":{"name":"mk"},"transform":[{"filter":"datum.p=='C' && datum.m!='P'"}],"mark":{"type":"point","shape":"triangle-up","filled":true,"size":24,"color":"#000","opacity":1,"yOffset":6},"encoding":{"x":{"field":"x","type":"quantitative"},"y":{"field":"y","type":"quantitative","axis":null}}},
{"data":{"name":"mk"},"transform":[{"filter":"datum.p=='C' && datum.m=='P'"}],"mark":{"type":"point","shape":"triangle-down","filled":true,"size":24,"color":"#000","opacity":1,"yOffset":-6},"encoding":{"x":{"field":"x","type":"quantitative"},"y":{"field":"y","type":"quantitative","axis":null}}},
{"data":{"name":"mk"},"transform":[{"filter":"datum.p=='C' && datum.m!='P'"}],"mark":{"type":"text","fontSize":16,"baseline":"middle","dy":26},"encoding":{"x":{"field":"x","type":"quantitative"},"y":{"field":"y","type":"quantitative","axis":null},"text":{"field":"m"}}},
{"data":{"name":"mk"},"transform":[{"filter":"datum.p=='C' && datum.m=='P'"}],"mark":{"type":"text","fontSize":16,"baseline":"middle","dy":-25},"encoding":{"x":{"field":"x","type":"quantitative"},"y":{"field":"y","type":"quantitative","axis":null},"text":{"field":"m"}}},
{"data":{"name":"box"},"transform":[{"filter":"datum.p=='C'"}],"mark":{"type":"rect","fill":"#fff","stroke":"#000","strokeWidth":2},"encoding":{"x":{"field":"x","type":"quantitative"},"x2":{"field":"x2"},"y":{"field":"y","type":"quantitative","axis":null},"y2":{"field":"y2"}}},
{"data":{"name":"box"},"transform":[{"filter":"datum.p=='C'"}],"mark":{"type":"text","font":"Liberation Serif","fontSize":30,"align":"center","baseline":"middle"},"encoding":{"x":{"field":"tx","type":"quantitative"},"y":{"field":"ty","type":"quantitative","axis":null},"text":{"field":"t"}}},
{"data":{"name":"lblL"},"transform":[{"filter":"datum.p=='C'"}],"mark":{"type":"text","fontSize":14.7,"align":"left","baseline":"middle"},"encoding":{"x":{"field":"x","type":"quantitative"},"y":{"field":"y","type":"quantitative","axis":null},"text":{"field":"t"}}},
{"data":{"name":"lblR"},"transform":[{"filter":"datum.p=='C'"}],"mark":{"type":"text","fontSize":14.7,"align":"right","baseline":"middle"},"encoding":{"x":{"field":"x","type":"quantitative"},"y":{"field":"y","type":"quantitative","axis":null},"text":{"field":"t"}}}
]}
],"spacing":-2}
],"spacing":5.5},
{"hconcat":[
{"width":392,"height":406,"layer":[
{"data":{"name":"trD"},"mark":{"type":"line","clip":true,"stroke":"#3a3a3a","strokeWidth":1,"interpolate":"monotone"},"encoding":{"x":{"field":"x","type":"quantitative","scale":{"domain":[0,10],"nice":false,"zero":false},"axis":{"values":[1,2,3,4,5,6,7,8,9],"gridDash":[1,26.07],"title":null}},"y":{"field":"y","type":"quantitative","scale":{"domain":[0,15],"nice":false,"zero":false},"axis":null},"detail":{"field":"s"}}},
{"data":{"name":"mk"},"transform":[{"filter":"datum.p=='D' && datum.m!='P'"}],"mark":{"type":"point","shape":"triangle-up","filled":true,"size":24,"color":"#000","opacity":1,"yOffset":5},"encoding":{"x":{"field":"x","type":"quantitative"},"y":{"field":"y","type":"quantitative","axis":null}}},
{"data":{"name":"mk"},"transform":[{"filter":"datum.p=='D' && datum.m=='P'"}],"mark":{"type":"point","shape":"triangle-down","filled":true,"size":24,"color":"#000","opacity":1,"yOffset":-5},"encoding":{"x":{"field":"x","type":"quantitative"},"y":{"field":"y","type":"quantitative","axis":null}}},
{"data":{"name":"mk"},"transform":[{"filter":"datum.p=='D' && datum.m!='P'"}],"mark":{"type":"text","fontSize":16,"baseline":"middle","dy":22},"encoding":{"x":{"field":"x","type":"quantitative"},"y":{"field":"y","type":"quantitative","axis":null},"text":{"field":"m"}}},
{"data":{"name":"mk"},"transform":[{"filter":"datum.p=='D' && datum.m=='P'"}],"mark":{"type":"text","fontSize":16,"baseline":"middle","dy":-18},"encoding":{"x":{"field":"x","type":"quantitative"},"y":{"field":"y","type":"quantitative","axis":null},"text":{"field":"m"}}},
{"data":{"name":"box"},"transform":[{"filter":"datum.p=='D'"}],"mark":{"type":"rect","fill":"#fff","stroke":"#000","strokeWidth":2},"encoding":{"x":{"field":"x","type":"quantitative"},"x2":{"field":"x2"},"y":{"field":"y","type":"quantitative","axis":null},"y2":{"field":"y2"}}},
{"data":{"name":"box"},"transform":[{"filter":"datum.p=='D'"}],"mark":{"type":"text","font":"Liberation Serif","fontSize":30,"align":"center","baseline":"middle"},"encoding":{"x":{"field":"tx","type":"quantitative"},"y":{"field":"ty","type":"quantitative","axis":null},"text":{"field":"t"}}},
{"data":{"name":"lblL"},"transform":[{"filter":"datum.p=='D'"}],"mark":{"type":"text","fontSize":14.7,"align":"left","baseline":"middle"},"encoding":{"x":{"field":"x","type":"quantitative"},"y":{"field":"y","type":"quantitative","axis":null},"text":{"field":"t"}}},
{"data":{"name":"lblR"},"transform":[{"filter":"datum.p=='D'"}],"mark":{"type":"text","fontSize":14.7,"align":"right","baseline":"middle"},"encoding":{"x":{"field":"x","type":"quantitative"},"y":{"field":"y","type":"quantitative","axis":null},"text":{"field":"t"}}}
]},
{"hconcat":[
{"width":373,"height":406,"layer":[
{"data":{"name":"trE"},"mark":{"type":"line","clip":true,"stroke":"#3a3a3a","strokeWidth":1,"interpolate":"monotone"},"encoding":{"x":{"field":"x","type":"quantitative","scale":{"domain":[0,10],"nice":false,"zero":false},"axis":{"values":[1,2,3,4,5,6,7,8,9],"gridDash":[1,26.07],"title":null}},"y":{"field":"y","type":"quantitative","scale":{"domain":[0,15],"nice":false,"zero":false},"axis":null},"detail":{"field":"s"}}},
{"data":{"name":"mk"},"transform":[{"filter":"datum.p=='E' && datum.m!='P'"}],"mark":{"type":"point","shape":"triangle-up","filled":true,"size":24,"color":"#000","opacity":1,"yOffset":5},"encoding":{"x":{"field":"x","type":"quantitative"},"y":{"field":"y","type":"quantitative","axis":null}}},
{"data":{"name":"mk"},"transform":[{"filter":"datum.p=='E' && datum.m=='P'"}],"mark":{"type":"point","shape":"triangle-down","filled":true,"size":24,"color":"#000","opacity":1,"yOffset":-5},"encoding":{"x":{"field":"x","type":"quantitative"},"y":{"field":"y","type":"quantitative","axis":null}}},
{"data":{"name":"mk"},"transform":[{"filter":"datum.p=='E' && datum.m!='P'"}],"mark":{"type":"text","fontSize":16,"baseline":"middle","dy":22},"encoding":{"x":{"field":"x","type":"quantitative"},"y":{"field":"y","type":"quantitative","axis":null},"text":{"field":"m"}}},
{"data":{"name":"mk"},"transform":[{"filter":"datum.p=='E' && datum.m=='P'"}],"mark":{"type":"text","fontSize":16,"baseline":"middle","dy":-20},"encoding":{"x":{"field":"x","type":"quantitative"},"y":{"field":"y","type":"quantitative","axis":null},"text":{"field":"m"}}},
{"data":{"name":"box"},"transform":[{"filter":"datum.p=='E'"}],"mark":{"type":"rect","fill":"#fff","stroke":"#000","strokeWidth":2},"encoding":{"x":{"field":"x","type":"quantitative"},"x2":{"field":"x2"},"y":{"field":"y","type":"quantitative","axis":null},"y2":{"field":"y2"}}},
{"data":{"name":"box"},"transform":[{"filter":"datum.p=='E'"}],"mark":{"type":"text","font":"Liberation Serif","fontSize":30,"align":"center","baseline":"middle"},"encoding":{"x":{"field":"tx","type":"quantitative"},"y":{"field":"ty","type":"quantitative","axis":null},"text":{"field":"t"}}},
{"data":{"name":"lblL"},"transform":[{"filter":"datum.p=='E'"}],"mark":{"type":"text","fontSize":14.7,"align":"left","baseline":"middle"},"encoding":{"x":{"field":"x","type":"quantitative"},"y":{"field":"y","type":"quantitative","axis":null},"text":{"field":"t"}}},
{"data":{"name":"lblR"},"transform":[{"filter":"datum.p=='E'"}],"mark":{"type":"text","fontSize":14.7,"align":"right","baseline":"middle"},"encoding":{"x":{"field":"x","type":"quantitative"},"y":{"field":"y","type":"quantitative","axis":null},"text":{"field":"t"}}}
]},
{"width":407,"height":406,"layer":[
{"data":{"name":"trF"},"mark":{"type":"line","clip":true,"stroke":"#333","strokeWidth":1,"interpolate":"monotone"},"encoding":{"x":{"field":"x","type":"quantitative","scale":{"domain":[0,10],"nice":false,"zero":false},"axis":{"values":[1,2,3,4,5,6,7,8,9],"gridDash":[1,26.07],"title":null}},"y":{"field":"y","type":"quantitative","scale":{"domain":[0,15],"nice":false,"zero":false},"axis":null},"detail":{"field":"s"}}},
{"data":{"name":"cur"},"mark":{"type":"rule","stroke":"#8a8a8a","strokeWidth":1},"encoding":{"x":{"field":"x","type":"quantitative"}}},
{"data":{"name":"box"},"transform":[{"filter":"datum.p=='F'"}],"mark":{"type":"rect","fill":"#fff","stroke":"#000","strokeWidth":2},"encoding":{"x":{"field":"x","type":"quantitative"},"x2":{"field":"x2"},"y":{"field":"y","type":"quantitative","axis":null},"y2":{"field":"y2"}}},
{"data":{"name":"box"},"transform":[{"filter":"datum.p=='F'"}],"mark":{"type":"text","font":"Liberation Serif","fontSize":30,"align":"center","baseline":"middle"},"encoding":{"x":{"field":"tx","type":"quantitative"},"y":{"field":"ty","type":"quantitative","axis":null},"text":{"field":"t"}}},
{"data":{"name":"lblL"},"transform":[{"filter":"datum.p=='F'"}],"mark":{"type":"text","fontSize":14,"fontWeight":"bold","align":"left","baseline":"middle","clip":true},"encoding":{"x":{"field":"x","type":"quantitative"},"y":{"field":"y","type":"quantitative","axis":null},"text":{"field":"t"}}},
{"data":{"name":"lblR"},"transform":[{"filter":"datum.p=='F'"}],"mark":{"type":"text","fontSize":14,"fontWeight":"bold","align":"right","baseline":"middle"},"encoding":{"x":{"field":"x","type":"quantitative"},"y":{"field":"y","type":"quantitative","axis":null},"text":{"field":"t"}}}
]}
],"spacing":-2}
],"spacing":5.5}
],
"spacing":-2
}
